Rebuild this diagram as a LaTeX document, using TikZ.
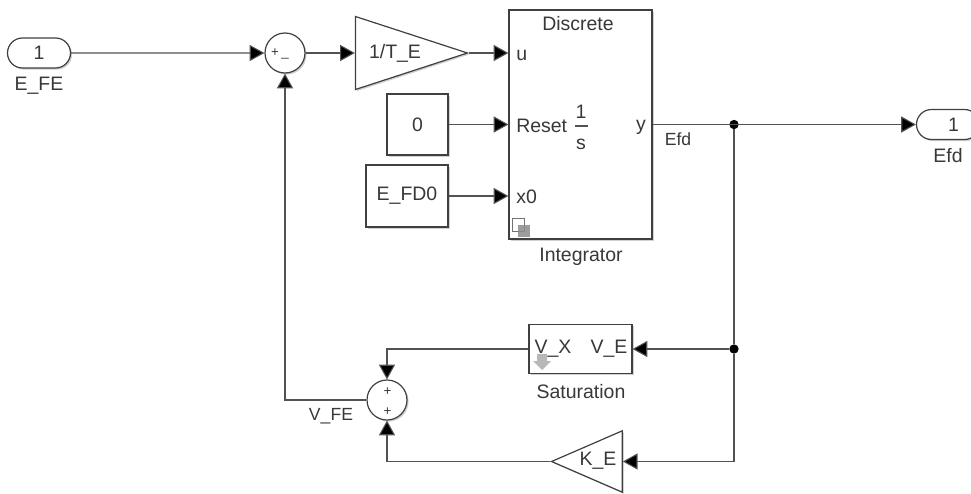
\documentclass[tikz,border=0pt]{standalone}
\usepackage{fontspec}
\setmainfont{Liberation Sans}
\usetikzlibrary{arrows.meta, positioning, calc, shapes.geometric, shapes.misc, shadows}

\colorlet{wirecol}{black!68}
\colorlet{txtcol}{black!78}
\tikzset{
  lbl/.style={font=\fontsize{14.6}{16}\selectfont, text=txtcol, inner sep=0pt},
  smalllbl/.style={font=\fontsize{13.2}{15}\selectfont, text=txtcol, inner sep=0pt},
  signlbl/.style={font=\fontsize{10}{11}\selectfont, text=txtcol, inner sep=0pt},
  blockshadow/.style={drop shadow={shadow xshift=1.2pt, shadow yshift=-1.2pt, opacity=0.3, fill=black!60}},
  blocknode/.style={draw=black!75, line width=0.9pt, fill=white, rectangle, inner sep=0pt, blockshadow},
  portnode/.style={blocknode, rounded rectangle, minimum width=47.25pt, minimum height=22.5pt},
  sumnode/.style={blocknode, circle, minimum size=30pt},
  gainnode/.style={blocknode, isosceles triangle, isosceles triangle stretches, inner sep=0pt},
  dotnode/.style={circle, fill=black, inner sep=0pt, minimum size=7pt},
  wire/.style={draw=wirecol, line width=0.8pt, -{Triangle[length=11pt, width=12pt, fill=black]}},
  plainwire/.style={draw=wirecol, line width=0.8pt}
}

\begin{document}
\begin{tikzpicture}[x=0.75pt, y=-0.75pt]
  \useasboundingbox (0,0) rectangle (971,493);

  % Forward path
  \node[portnode, lbl] (inFE) at (39,53) {1};
  \node[lbl] (inFElbl) at (39,86) {E\_FE};
  \node[sumnode] (sumA) at (285,53) {};
  \node[signlbl] (sumAplus) at (275,53) {+};
  \node[signlbl] (sumAminus) at (285,58) {\_};
  \node[gainnode, minimum width=54.75pt, minimum height=84pt, anchor=apex] (gainTE) at (469,53) {};
  \node[lbl] (gainTElbl) at (395,53) {1/T\_E};

  % Constants
  \node[blocknode, lbl, minimum width=45.75pt, minimum height=45.75pt] (constZero) at (417.5,124.5) {0};
  \node[blocknode, lbl, minimum width=61.5pt, minimum height=46.5pt] (constFD) at (407,196) {E\_FD0};

  % Integrator block
  \node[blocknode, minimum width=107.25pt, minimum height=171.75pt] (integ) at (580.5,124.5) {};
  \coordinate (integU) at (integ.west |- gainTE.apex);
  \coordinate (integR) at (integ.west |- constZero.east);
  \coordinate (integX) at (integ.west |- constFD.east);
  \coordinate (integY) at (integ.east |- constZero.east);
  \node[lbl] (integTop) at (578,24) {Discrete};
  \node[lbl, anchor=west] (integPortU) at (516,55) {u};
  \node[lbl, anchor=west] (integPortR) at (516,126) {Reset};
  \node[lbl] (integNum) at (581,112) {1};
  \node[lbl] (integDen) at (581,144) {s};
  \draw[plainwire] (575,126) -- (588,126);
  \node[lbl, anchor=west] (integPortX) at (516,197) {x0};
  \node[lbl] (integPortY) at (641,127) {y};
  \node[lbl] (integLbl) at (581,257) {Integrator};
  \node[draw=black!55, line width=0.6pt, minimum size=9.5pt, inner sep=0pt] (integIconA) at (518.5,225) {};
  \node[fill=black!45, opacity=0.85, minimum size=9.5pt, inner sep=0pt] (integIconB) at (524,231) {};

  % Output
  \node[dotnode] (dotOut) at (734,124.5) {};
  \node[portnode, lbl, text width=0pt, align=center] (outEfd) at (948,124.5) {1};
  \node[lbl] (outEfdlbl) at (948,156) {Efd};
  \node[smalllbl] (sigEfd) at (678,139) {Efd};

  % Feedback blocks
  \node[dotnode] (dotFb) at (734,349) {};
  \node[blocknode, minimum width=77.25pt, minimum height=36.75pt] (satur) at (580.5,349) {};
  \node[lbl] (saturX) at (553,349) {V\_X};
  \node[lbl] (saturE) at (609,349) {V\_E};
  \node[lbl] (saturLbl) at (581,392) {Saturation};
  \fill[black!28] (537,354) -- (547,354) -- (547,361) -- (551,361) -- (542,370) -- (533,361) -- (537,361) -- cycle;
  \node[gainnode, shape border rotate=180, minimum width=46pt, minimum height=53pt, anchor=apex] (gainKE) at (550,461.5) {};
  \node[lbl] (gainKElbl) at (598,461) {K\_E};
  \node[sumnode] (sumB) at (387,400) {};
  \node[signlbl] (sumBplusA) at (387.5,392) {+};
  \node[signlbl] (sumBplusB) at (387.5,412) {+};
  \node[smalllbl] (sigVFE) at (331,416) {V\_FE};

  % Connectors
  \draw[wire] (inFE) -- (sumA);
  \draw[wire] (sumA) -- (gainTE.lower side);
  \draw[wire] (gainTE.apex) -- (integU);
  \draw[wire] (constZero) -- (integR);
  \draw[wire] (constFD) -- (integX);
  \draw[wire] (integY) -- (outEfd);
  \draw[plainwire] (dotOut) -- (dotFb);
  \draw[wire] (dotFb) -- (satur);
  \draw[wire] (dotFb) |- (gainKE.lower side);
  \draw[wire] (satur) -| (sumB);
  \draw[wire] (gainKE.apex) -| (sumB);
  \draw[wire] (sumB) -| (sumA);
\end{tikzpicture}
\end{document}
